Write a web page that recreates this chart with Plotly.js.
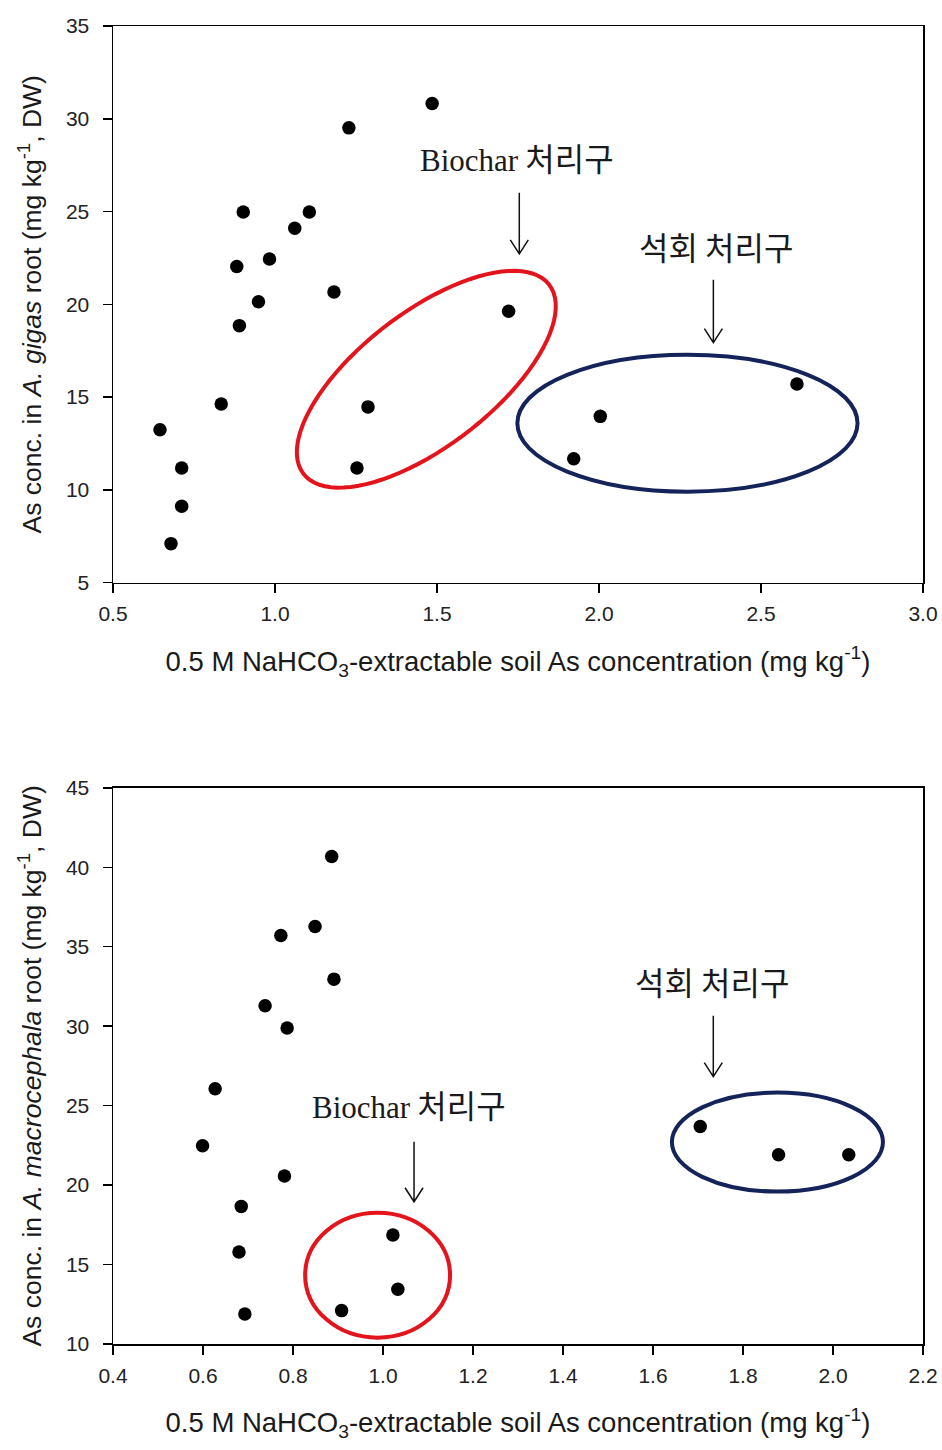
<!DOCTYPE html>
<html>
<head>
<meta charset="utf-8">
<script src="https://cdn.plot.ly/plotly-3.0.1.min.js"></script>
<style>html,body{margin:0;padding:0;background:#fff;}</style>
</head>
<body>
<div id="chart" style="width:942px;height:1450px;"></div>
<script>
// ---- Data: A. gigas (top panel) ----
const gigasSoilAs = [0.645, 0.712, 0.712, 0.679, 0.834, 0.890, 0.949, 0.882, 0.902, 0.983, 1.061,
                     1.106, 1.182, 1.228, 1.485, 1.253, 1.287, 1.721, 1.922, 2.004, 2.611];
const gigasRootAs = [13.24, 11.18, 9.11, 7.10, 14.63, 18.85, 20.14, 22.04, 24.97, 22.44, 24.10,
                     24.97, 20.66, 29.51, 30.82, 11.18, 14.47, 19.62, 11.68, 13.96, 15.70];

// ---- Data: A. macrocephala (bottom panel) ----
const macroSoilAs = [0.886, 0.773, 0.849, 0.891, 0.738, 0.787, 0.627, 0.599, 0.781, 0.685, 0.680,
                     0.693, 0.908, 1.022, 1.033, 1.705, 1.879, 2.035];
const macroRootAs = [40.68, 35.71, 36.27, 32.96, 31.28, 29.88, 26.06, 22.48, 20.57, 18.66, 15.79,
                     11.89, 12.10, 16.86, 13.44, 23.69, 21.91, 21.91];

// ---- Tick labels ----
const topXTicks = [0.5, 1.0, 1.5, 2.0, 2.5, 3.0];
const topYTicks = [5, 10, 15, 20, 25, 30, 35];
const botXTicks = [0.4, 0.6, 0.8, 1.0, 1.2, 1.4, 1.6, 1.8, 2.0, 2.2];
const botYTicks = [10, 15, 20, 25, 30, 35, 40, 45];

// ---- Text labels ----
const biocharLabel = "<span style='font-family:\"Liberation Serif\",serif;font-size:31px'>Biochar</span> 처리구";
const limeLabel = "석회 처리구";
const xTitle = "0.5 M NaHCO<sub>3</sub>-extractable soil As concentration (mg kg<sup>-1</sup>)";
const yTitleTop = "As conc. in <i>A. gigas</i> root (mg kg<sup>-1</sup>, DW)";
const yTitleBot = "As conc. in <i>A. macrocephala</i> root (mg kg<sup>-1</sup>, DW)";

// ---- Layout geometry ----
const W = 942, H = 1450;
const M = {l: 113, r: 19.3, t: 26, b: 105.7};
const plotW = W - M.l - M.r;
const plotH = H - M.t - M.b;
const topDom = [0.5777, 1];
const botDom = [0, 0.422];
const topXR = [0.5, 3.0], topYR = [5, 35];
const botXR = [0.4, 2.2], botYR = [10, 45];
const topPX = plotW / (topXR[1] - topXR[0]);
const topPY = plotH * (topDom[1] - topDom[0]) / (topYR[1] - topYR[0]);
const botPX = plotW / (botXR[1] - botXR[0]);
const botPY = plotH * (botDom[1] - botDom[0]) / (botYR[1] - botYR[0]);

const RED = '#e3141b', NAVY = '#14245a';
const textCol = '#1a1a1a';

function ellipsePath(cx, cy, a, b, angDeg, px, py) {
  const th = angDeg * Math.PI / 180;
  let d = '';
  for (let i = 0; i <= 90; i++) {
    const t = i / 90 * 2 * Math.PI;
    const ox = a * Math.cos(t) * Math.cos(th) - b * Math.sin(t) * Math.sin(th);
    const oy = a * Math.cos(t) * Math.sin(th) + b * Math.sin(t) * Math.cos(th);
    const x = cx + ox / px, y = cy + oy / py;
    d += (i === 0 ? 'M' : 'L') + x.toFixed(5) + ',' + y.toFixed(5);
  }
  return d + 'Z';
}

function arrowPath(x, yFrom, yTo, px, py) {
  const hx = 9 / px, hy = 14 / py;
  return 'M' + x + ',' + yFrom + 'L' + x + ',' + yTo +
         'M' + (x - hx) + ',' + (yTo + hy) + 'L' + x + ',' + yTo + 'L' + (x + hx) + ',' + (yTo + hy);
}

const traces = [
  {x: gigasSoilAs, y: gigasRootAs, xaxis: 'x', yaxis: 'y', type: 'scatter', mode: 'markers',
   marker: {color: '#000', size: 13.5}, hoverinfo: 'x+y'},
  {x: macroSoilAs, y: macroRootAs, xaxis: 'x2', yaxis: 'y2', type: 'scatter', mode: 'markers',
   marker: {color: '#000', size: 13.5}, hoverinfo: 'x+y'}
];

const tickFont = {family: 'Liberation Sans, Arial, sans-serif', size: 21, color: '#222'};
const titleFont = {family: 'Liberation Sans, Arial, sans-serif', size: 27.5, color: textCol};
const yTitleFont = {family: 'Liberation Sans, Arial, sans-serif', size: 26.5, color: textCol};

function xAxis(range, ticks, anchor) {
  return {
    anchor: anchor, domain: [0, 1], range: range, tickvals: ticks,
    ticktext: ticks.map(v => v.toFixed(1)),
    ticks: 'outside', ticklen: 9, tickwidth: 1.5, tickcolor: '#000', ticklabelstandoff: 3,
    showline: true, mirror: true, linecolor: '#000', linewidth: 1.5,
    showgrid: false, zeroline: false, tickfont: tickFont, automargin: false,
    title: {text: xTitle, font: titleFont, standoff: 27}
  };
}
function yAxis(range, ticks, dom, anchor, title) {
  return {
    anchor: anchor, domain: dom, range: range, tickvals: ticks,
    ticktext: ticks.map(v => String(v)),
    ticks: 'outside', ticklen: 9, tickwidth: 1.5, tickcolor: '#000', ticklabelstandoff: 9,
    showline: true, mirror: true, linecolor: '#000', linewidth: 1.5,
    showgrid: false, zeroline: false, tickfont: tickFont, automargin: false,
    title: {text: title, font: yTitleFont, standoff: 16}
  };
}

const annFont = {family: 'Noto Sans CJK KR, sans-serif', size: 32, color: textCol};

const layout = {
  width: W, height: H, margin: M, showlegend: false,
  paper_bgcolor: '#fff', plot_bgcolor: '#fff',
  xaxis: xAxis(topXR, topXTicks, 'y'),
  yaxis: yAxis(topYR, topYTicks, topDom, 'x', yTitleTop),
  xaxis2: xAxis(botXR, botXTicks, 'y2'),
  yaxis2: yAxis(botYR, botYTicks, botDom, 'x2', yTitleBot),
  shapes: [
    {type: 'path', xref: 'x', yref: 'y', path: ellipsePath(1.467, 15.96, 155, 67, 37.6, topPX, topPY),
     line: {color: RED, width: 4}},
    {type: 'circle', xref: 'x', yref: 'y', x0: 1.748, x1: 2.798, y0: 9.90, y1: 17.28,
     line: {color: NAVY, width: 4}},
    {type: 'circle', xref: 'x2', yref: 'y2', x0: 0.827, x1: 1.149, y0: 10.40, y1: 18.26,
     line: {color: RED, width: 4}},
    {type: 'circle', xref: 'x2', yref: 'y2', x0: 1.642, x1: 2.111, y0: 19.59, y1: 25.82,
     line: {color: NAVY, width: 4}},
    {type: 'path', xref: 'x', yref: 'y', path: arrowPath(1.754, 26.01, 22.72, topPX, topPY),
     line: {color: '#111', width: 1.5}},
    {type: 'path', xref: 'x', yref: 'y', path: arrowPath(2.353, 21.32, 17.93, topPX, topPY),
     line: {color: '#111', width: 1.5}},
    {type: 'path', xref: 'x2', yref: 'y2', path: arrowPath(1.734, 30.65, 26.82, botPX, botPY),
     line: {color: '#111', width: 1.5}},
    {type: 'path', xref: 'x2', yref: 'y2', path: arrowPath(1.069, 22.73, 18.95, botPX, botPY),
     line: {color: '#111', width: 1.5}}
  ],
  annotations: [
    {xref: 'x', yref: 'y', x: 1.746, y: 27.95, text: biocharLabel, showarrow: false, font: annFont},
    {xref: 'x', yref: 'y', x: 2.362, y: 23.15, text: limeLabel, showarrow: false, font: annFont},
    {xref: 'x2', yref: 'y2', x: 1.731, y: 32.86, text: limeLabel, showarrow: false, font: annFont},
    {xref: 'x2', yref: 'y2', x: 1.057, y: 25.12, text: biocharLabel, showarrow: false, font: annFont}
  ]
};

Plotly.newPlot('chart', traces, layout, {displayModeBar: false, staticPlot: true});
</script>
</body>
</html>
